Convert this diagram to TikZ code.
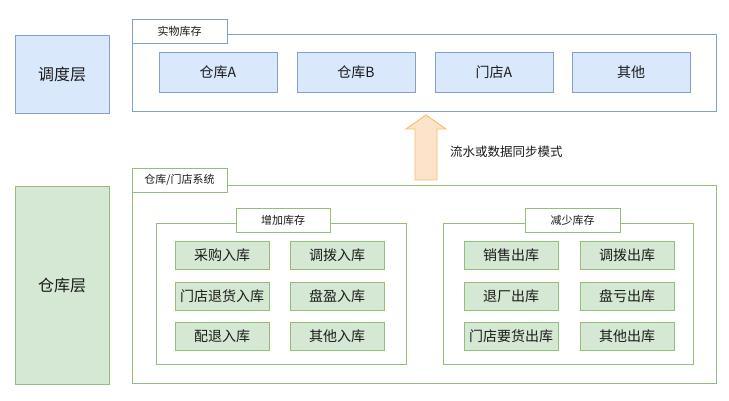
\documentclass[tikz,border=0pt]{standalone}
\usepackage{fontspec}
\setmainfont{Noto Sans CJK SC}
\usetikzlibrary{positioning}
\definecolor{bluefill}{HTML}{DAE8FC}
\definecolor{blueline}{HTML}{849FC8}
\definecolor{greenfill}{HTML}{D5E8D4}
\definecolor{greenline}{HTML}{93BE7C}
\definecolor{orangefill}{HTML}{FDE3CA}
\definecolor{orangeline}{HTML}{F0C070}
\definecolor{txt}{HTML}{1A1A1A}

\begin{document}
\begin{tikzpicture}[x=1pt,y=-1pt,line width=0.8pt,
  every node/.style={anchor=north west,inner sep=0pt,outer sep=0pt,text=txt},
  size/.style 2 args={minimum width=#1pt,minimum height=#2pt},
  layer/.style={draw=#1line,fill=#1fill,font=\fontsize{16}{18}\selectfont},
  frame/.style={draw=#1line,fill=white},
  tab/.style={draw=#1line,fill=white,size={95}{24},font=\fontsize{11}{13}\selectfont},
  cell/.style={draw=#1line,fill=#1fill,font=\fontsize{14}{16}\selectfont}]
\useasboundingbox (0,0) rectangle (729,401);
% scheduling layer
\node[layer=blue,size={94}{78}] (sched) at (15,35) {调度层};
\node[frame=blue,size={584}{77}] (stock) at (132,34) {};
\node[tab=blue] (stocktab) at (132,19) {实物库存};
\node[cell=blue,size={118}{40}] (whA) at (159,52) {仓库A};
\node[cell=blue,size={118}{40}] (whB) at (297,52) {仓库B};
\node[cell=blue,size={118}{40}] (shopA) at (435,52) {门店A};
\node[cell=blue,size={118}{40}] (other) at (572,52) {其他};
% warehouse layer
\node[layer=green,size={94}{198}] (wh) at (15,186) {仓库层};
\node[frame=green,size={584}{198}] (sys) at (132,185) {};
\node[tab=green] (systab) at (132,168) {仓库/门店系统};
% sync arrow
\draw[draw=orangeline,fill=orangefill,line width=0.9pt]
  (415,180) -- (415,129) -- (406,129) -- (426,115) -- (446,129) -- (437,129) -- (437,180) -- cycle;
\node[font=\fontsize{12.5}{14}\selectfont,anchor=west] (synclbl) at (450,152) {流水或数据同步模式};
% increase stock
\node[frame=green,size={250}{141}] (inc) at (156,223) {};
\node[tab=green,size={94}{24}] (inctab) at (236,208) {增加库存};
\node[cell=green,size={94}{28}] (in1) at (175,241) {采购入库};
\node[cell=green,size={94}{28}] (in2) at (290,241) {调拨入库};
\node[cell=green,size={94}{28}] (in3) at (175,282) {门店退货入库};
\node[cell=green,size={94}{28}] (in4) at (290,282) {盘盈入库};
\node[cell=green,size={94}{28}] (in5) at (175,322) {配退入库};
\node[cell=green,size={94}{28}] (in6) at (290,322) {其他入库};
% decrease stock
\node[frame=green,size={250}{141}] (dec) at (443,223) {};
\node[tab=green] (dectab) at (525,208) {减少库存};
\node[cell=green,size={94}{28}] (out1) at (464,241) {销售出库};
\node[cell=green,size={94}{28}] (out2) at (580,241) {调拨出库};
\node[cell=green,size={94}{28}] (out3) at (464,282) {退厂出库};
\node[cell=green,size={94}{28}] (out4) at (580,282) {盘亏出库};
\node[cell=green,size={94}{28}] (out5) at (464,322) {门店要货出库};
\node[cell=green,size={94}{28}] (out6) at (580,322) {其他出库};
\end{tikzpicture}
\end{document}
